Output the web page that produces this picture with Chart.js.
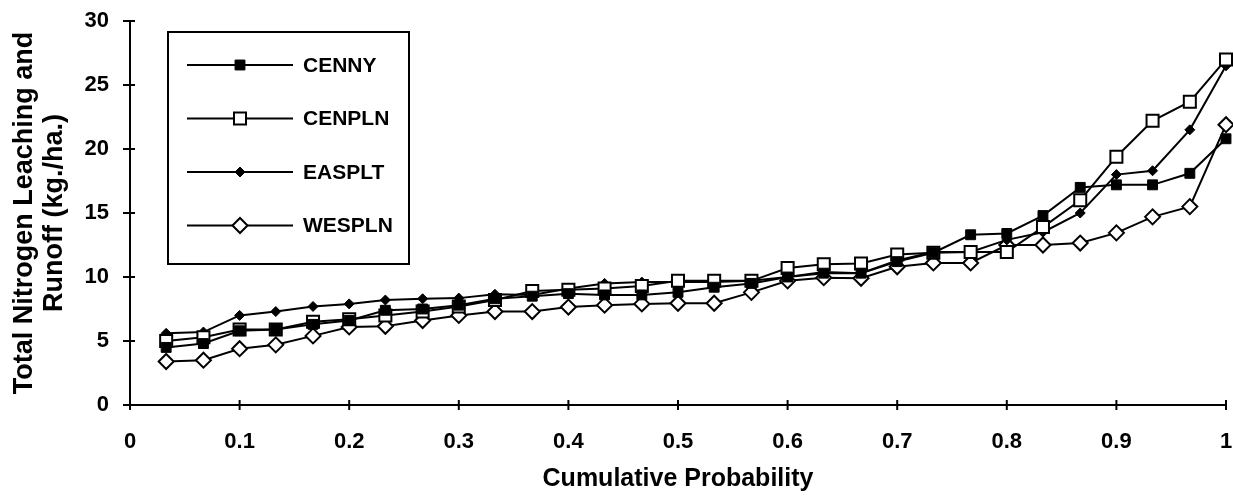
<!DOCTYPE html>
<html>
<head>
<meta charset="utf-8">
<script src="https://cdn.jsdelivr.net/npm/chart.js"></script>
<style>
  html, body { margin: 0; padding: 0; background: #fff; }
  #wrap { width: 1233px; height: 497px; }
</style>
</head>
<body>
<div id="wrap"><canvas id="grafico" width="1233" height="497"></canvas></div>
<script>
// probabilidad acumulada (eje x)
const probs = [0.033, 0.067, 0.1, 0.133, 0.167, 0.2, 0.233, 0.267, 0.3, 0.333,
               0.367, 0.4, 0.433, 0.467, 0.5, 0.533, 0.567, 0.6, 0.633, 0.667,
               0.7, 0.733, 0.767, 0.8, 0.833, 0.867, 0.9, 0.933, 0.967, 1];

const cenny  = [4.5, 4.8, 5.8, 5.9, 6.3, 6.6, 7.4, 7.5, 7.8, 8.3, 8.5, 8.7, 8.6, 8.6, 8.8,
                9.2, 9.5, 10.0, 10.3, 10.3, 11.2, 11.9, 13.3, 13.4, 14.8, 17.0, 17.2, 17.2, 18.1, 20.8];
const cenpln = [5.0, 5.3, 5.9, 5.9, 6.5, 6.7, 7.0, 7.3, 7.7, 8.2, 8.9, 9.0, 9.1, 9.3, 9.7,
                9.7, 9.7, 10.7, 11.0, 11.05, 11.75, 11.9, 11.95, 11.95, 13.9, 16.0, 19.4, 22.2, 23.7, 27.0];
const easplt = [5.6, 5.7, 7.0, 7.3, 7.7, 7.9, 8.2, 8.3, 8.35, 8.65, 8.6, 9.1, 9.5, 9.6, 9.6,
                9.6, 9.7, 10.0, 10.4, 10.3, 11.3, 11.95, 11.95, 12.9, 13.5, 15.0, 18.0, 18.3, 21.5, 26.5];
const wespln = [3.4, 3.5, 4.4, 4.7, 5.4, 6.1, 6.15, 6.6, 7.0, 7.3, 7.3, 7.65, 7.8, 7.9, 7.95,
                7.95, 8.8, 9.7, 9.95, 9.9, 10.8, 11.1, 11.1, 12.5, 12.5, 12.65, 13.45, 14.7, 15.5, 21.9];

const seriesNames = ['CENNY', 'CENPLN', 'EASPLT', 'WESPLN'];
const xTickLabels = ['0', '0.1', '0.2', '0.3', '0.4', '0.5', '0.6', '0.7', '0.8', '0.9', '1'];
const yTickLabels = ['0', '5', '10', '15', '20', '25', '30'];

const FUENTE = "'Liberation Sans', Arial, sans-serif";

function puntos(valores) {
    return valores.map((v, i) => ({ x: probs[i], y: v }));
}

function serie(nombre, valores, estilo) {
    return Object.assign({
        label: nombre,
        data: puntos(valores),
        borderColor: '#000',
        borderWidth: 2,
        pointBorderColor: '#000',
        tension: 0,
        clip: false
    }, estilo);
}

// marcas de los ejes que cruzan la linea del eje
const marcasEje = {
    id: 'marcasEje',
    afterDraw(chart) {
        const ctx = chart.ctx;
        const x = chart.scales.x, y = chart.scales.y;
        ctx.save();
        ctx.strokeStyle = '#000';
        ctx.lineWidth = 2;
        y.ticks.forEach((t, i) => {
            const py = y.getPixelForTick(i);
            ctx.beginPath();
            ctx.moveTo(x.left - 7, py);
            ctx.lineTo(x.left + 5, py);
            ctx.stroke();
        });
        x.ticks.forEach((t, i) => {
            const px = x.getPixelForTick(i);
            ctx.beginPath();
            ctx.moveTo(px, y.bottom - 5);
            ctx.lineTo(px, y.bottom + 5);
            ctx.stroke();
        });
        ctx.restore();
    }
};

// leyenda con recuadro dentro del area del grafico
const leyendaCaja = {
    id: 'leyendaCaja',
    afterDraw(chart) {
        const ctx = chart.ctx;
        const area = chart.chartArea;
        const bx = area.left + 38, by = area.top + 11, bw = 241, bh = 232;
        ctx.save();
        ctx.fillStyle = '#fff';
        ctx.fillRect(bx, by, bw, bh);
        ctx.strokeStyle = '#000';
        ctx.lineWidth = 2;
        ctx.strokeRect(bx, by, bw, bh);
        ctx.font = 'bold 21px ' + FUENTE;
        ctx.textBaseline = 'middle';
        chart.data.datasets.forEach((ds, i) => {
            const fy = by + 33 + i * 53.5;
            ctx.strokeStyle = '#000';
            ctx.lineWidth = 2;
            ctx.beginPath();
            ctx.moveTo(bx + 19, fy);
            ctx.lineTo(bx + 125, fy);
            ctx.stroke();
            ctx.fillStyle = ds.pointBackgroundColor;
            ctx.strokeStyle = '#000';
            ctx.lineWidth = ds.pointBorderWidth;
            Chart.helpers.drawPoint(ctx, {
                pointStyle: ds.pointStyle,
                radius: ds.pointRadius,
                rotation: 0,
                borderWidth: ds.pointBorderWidth
            }, bx + 72, fy);
            ctx.fillStyle = '#000';
            ctx.textAlign = 'left';
            ctx.fillText(ds.label, bx + 135, fy + 1);
        });
        ctx.restore();
    }
};

const data = {
    datasets: [
        serie(seriesNames[0], cenny, {
            pointStyle: 'rect', pointRadius: 7, pointHoverRadius: 7,
            pointBackgroundColor: '#000', pointBorderWidth: 1
        }),
        serie(seriesNames[1], cenpln, {
            pointStyle: 'rect', pointRadius: 8.5, pointHoverRadius: 8.5,
            pointBackgroundColor: '#fff', pointBorderWidth: 2
        }),
        serie(seriesNames[2], easplt, {
            pointStyle: 'rectRot', pointRadius: 5, pointHoverRadius: 5,
            pointBackgroundColor: '#000', pointBorderWidth: 1
        }),
        serie(seriesNames[3], wespln, {
            pointStyle: 'rectRot', pointRadius: 7.5, pointHoverRadius: 7.5,
            pointBackgroundColor: '#fff', pointBorderWidth: 2
        })
    ]
};

const config = {
    type: 'line',
    data: data,
    plugins: [marcasEje, leyendaCaja],
    options: {
        responsive: false,
        animation: false,
        events: [],
        layout: { autoPadding: false, padding: { left: 0, top: 21, right: 7, bottom: 0 } },
        plugins: {
            legend: { display: false },
            tooltip: { enabled: false }
        },
        scales: {
            x: {
                type: 'linear',
                min: 0,
                max: 1,
                ticks: {
                    stepSize: 0.1,
                    padding: 16,
                    color: '#000',
                    font: { family: FUENTE, size: 22, weight: 'bold' },
                    callback: (v, i) => xTickLabels[i]
                },
                grid: { display: false },
                border: { display: true, color: '#000', width: 2 },
                title: {
                    display: true,
                    text: 'Cumulative Probability',
                    color: '#000',
                    font: { family: FUENTE, size: 25, weight: 'bold' },
                    padding: { top: 0, bottom: 3 }
                },
                afterFit: (scale) => {
                    scale.height = 92;
                    scale.paddingLeft = 0;
                    scale.paddingRight = 0;
                }
            },
            y: {
                min: 0,
                max: 30,
                ticks: {
                    stepSize: 5,
                    padding: 13,
                    color: '#000',
                    font: { family: FUENTE, size: 22, weight: 'bold' },
                    callback: (v, i) => yTickLabels[i]
                },
                grid: { display: false },
                border: { display: true, color: '#000', width: 2 },
                title: {
                    display: true,
                    text: ['Total Nitrogen Leaching and', 'Runoff (kg./ha.)'],
                    color: '#000',
                    font: { family: FUENTE, size: 27, weight: 'bold', lineHeight: 1.1 },
                    padding: { top: 10, bottom: 0 }
                },
                afterFit: (scale) => {
                    scale.width = 130;
                    scale.paddingTop = 0;
                    scale.paddingBottom = 0;
                }
            }
        }
    }
};

const miGrafico = new Chart(document.getElementById('grafico').getContext('2d'), config);
</script>
</body>
</html>
